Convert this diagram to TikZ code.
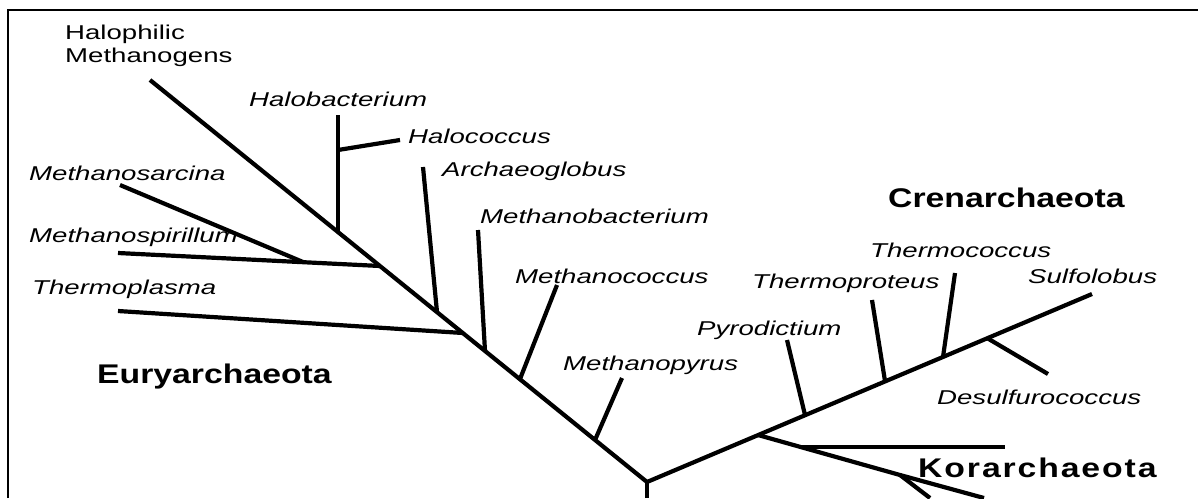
\documentclass[tikz,border=0pt]{standalone}
\usepackage{fontspec}
\setmainfont{Liberation Sans}
\newfontfamily\taxonfont[FakeStretch=1.38]{Liberation Sans}
\newfontfamily\cladefont[FakeStretch=1.25]{Liberation Sans}
\newfontfamily\korfont[FakeStretch=1.25,LetterSpace=7]{Liberation Sans}
\usetikzlibrary{positioning,calc}

\begin{document}
\begin{tikzpicture}[x=1pt, y=-1pt,
  branch/.style={line width=4.2pt, line join=miter},
  taxon/.style={anchor=base west, inner sep=0pt, font=\taxonfont\itshape\fontsize{20}{23}\selectfont},
  group/.style={anchor=base west, inner sep=0pt, font=\cladefont\bfseries\fontsize{27}{30}\selectfont},
]
\useasboundingbox (0,0) rectangle (1198,498);

% === Frame ===
\draw[line width=2pt] (8,498) -- (8,10) -- (1198,10);

% === Root and main stems ===
\coordinate (base) at (647,498);
\coordinate (root) at (647,482);
\coordinate (haloph) at (150,80);
\coordinate (sulf) at (1092,294);

\draw[branch] (base) -- (root);
\draw[branch] (root) -- (haloph);
\draw[branch] (root) -- (sulf);

% === Euryarchaeota side ===
\coordinate (jpyrus) at (595,440);   \coordinate (tpyrus) at (622,378);
\coordinate (jcoccus) at (520,379);  \coordinate (tcoccus) at (557,285);
\coordinate (jbact) at (485,351);    \coordinate (tbact) at (478,230);
\coordinate (jplasma) at (463,333);  \coordinate (tplasma) at (118,311);
\coordinate (jarch) at (437,312);    \coordinate (tarch) at (423,167);
\coordinate (jspir) at (380,266);    \coordinate (tspir) at (118,253);
\coordinate (jsarc) at (303,262);    \coordinate (tsarc) at (120,185);
\coordinate (jhalo) at (338,232);    \coordinate (thalo) at (338,115);
\coordinate (jhcoc) at (338,150);    \coordinate (thcoc) at (400,140);

\draw[branch] (jpyrus) -- (tpyrus);
\draw[branch] (jcoccus) -- (tcoccus);
\draw[branch] (jbact) -- (tbact);
\draw[branch] (jplasma) -- (tplasma);
\draw[branch] (jarch) -- (tarch);
\draw[branch] (jspir) -- (tspir);
\draw[branch] (jsarc) -- (tsarc);
\draw[branch] (jhalo) -- (thalo);
\draw[branch] (jhcoc) -- (thcoc);

% === Crenarchaeota side ===
\coordinate (jpyro) at (805,415);    \coordinate (tpyro) at (787,340);
\coordinate (jtprot) at (885,381);   \coordinate (ttprot) at (872,300);
\coordinate (jtcoc) at (943,357);    \coordinate (ttcoc) at (955,273);
\coordinate (jdesu) at (987,338);    \coordinate (tdesu) at (1048,374);

\draw[branch] (jpyro) -- (tpyro);
\draw[branch] (jtprot) -- (ttprot);
\draw[branch] (jtcoc) -- (ttcoc);
\draw[branch] (jdesu) -- (tdesu);

% === Korarchaeota lineage ===
\coordinate (jkor) at (758,435);
\coordinate (jkorh) at (800,447);    \coordinate (tkorh) at (1005,447);
\coordinate (jkor2) at (900,475);
\coordinate (tkora) at (984,498);    \coordinate (tkorb) at (930,498);

\draw[branch] (jkor) -- (jkor2) -- (tkora);
\draw[branch] (jkorh) -- (tkorh);
\draw[branch] (jkor2) -- (tkorb);

% === Taxon labels ===
\node[anchor=north west, inner sep=0pt, align=left, font=\taxonfont\fontsize{20}{23}\selectfont] (halophil) at (65,25) {Halophilic\\Methanogens};
\node[taxon] (halobact) at (249,106) {Halobacterium};
\node[taxon] (halococ) at (408,143) {Halococcus};
\node[taxon] (archaeo) at (442,176) {Archaeoglobus};
\node[taxon] (methbact) at (480,223) {Methanobacterium};
\node[taxon] (methsarc) at (29,180) {Methanosarcina};
\node[taxon] (methspir) at (29,242) {Methanospirillum};
\node[taxon] (thplasma) at (32,294) {Thermoplasma};
\node[taxon] (methcoc) at (515,283) {Methanococcus};
\node[taxon] (methpyr) at (563,370) {Methanopyrus};
\node[taxon] (pyrodic) at (697,335) {Pyrodictium};
\node[taxon] (thprot) at (752,288) {Thermoproteus};
\node[taxon] (thcoc) at (870,257) {Thermococcus};
\node[taxon] (sulfolob) at (1028,283) {Sulfolobus};
\node[taxon] (desulfu) at (937,404) {Desulfurococcus};

% === Group labels ===
\node[group] (eury) at (97,383) {Euryarchaeota};
\node[group] (cren) at (888,207) {Crenarchaeota};
\node[group, font=\korfont\bfseries\fontsize{27}{30}\selectfont] (kor) at (918,477) {Korarchaeota};

\end{tikzpicture}
\end{document}
